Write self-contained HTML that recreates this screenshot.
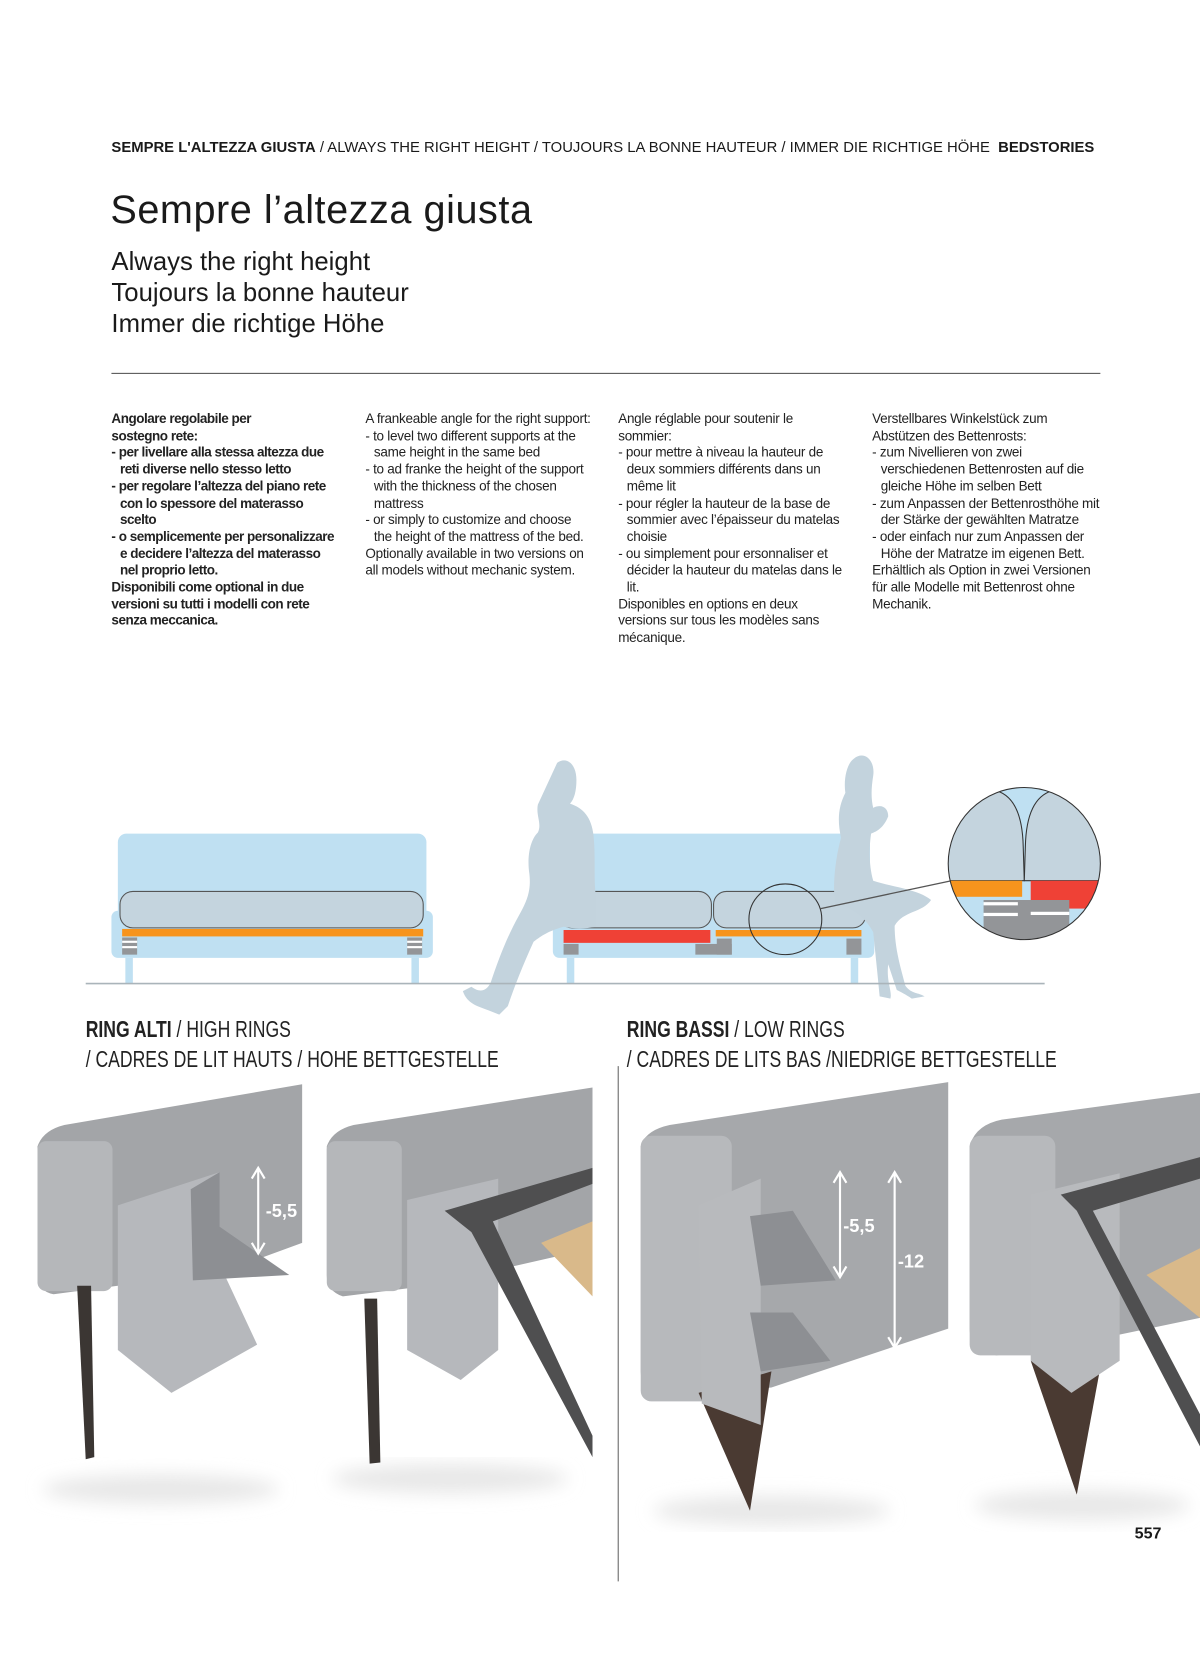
<!DOCTYPE html>
<html><head><meta charset="utf-8"><style>
html,body{margin:0;padding:0;background:#fff;}
body{width:1200px;height:1680px;overflow:hidden;position:relative;}
#w{position:absolute;left:0;top:0;width:1120px;height:1568px;transform:scale(1.0714286);transform-origin:0 0;font-family:"Liberation Sans",sans-serif;color:#1a1a1a;}
.a{position:absolute;white-space:nowrap;}
.col{position:absolute;top:384px;width:212px;font-size:12.6px;line-height:15.7px;color:#222;letter-spacing:-0.25px;}
.col p{margin:0;}
.ind{padding-left:8px;text-indent:-8px;}
.h{position:absolute;font-family:"Liberation Sans Narrow","Liberation Sans",sans-serif;font-size:22px;line-height:28px;color:#222;transform:scaleX(0.746);transform-origin:0 0;white-space:nowrap;}
</style></head><body><div id="w">
<div class="a" style="left:104px;top:129px;font-size:13.85px;"><b>SEMPRE L'ALTEZZA GIUSTA</b> / ALWAYS THE RIGHT HEIGHT / TOUJOURS LA BONNE HAUTEUR / IMMER DIE RICHTIGE HÖHE &nbsp;<b>BEDSTORIES</b></div>
<div class="a" style="left:103px;top:175px;font-size:37px;letter-spacing:0.5px;">Sempre l’altezza giusta</div>
<div class="a" style="left:104px;top:230px;font-size:24px;line-height:29px;">Always the right height<br>Toujours la bonne hauteur<br>Immer die richtige Höhe</div>
<div class="a" style="left:104px;top:348px;width:923px;height:1px;background:#555;"></div>

<div class="col" style="left:104px;font-weight:bold;letter-spacing:-0.45px;"><p>Angolare regolabile per<br>sostegno rete:</p><p class="ind">- per livellare alla stessa altezza due reti diverse nello stesso letto</p><p class="ind">- per regolare l’altezza del piano rete con lo spessore del materasso scelto</p><p class="ind">- o semplicemente per personalizzare e decidere l’altezza del materasso nel proprio letto.</p><p>Disponibili come optional in due versioni su tutti i modelli con rete senza meccanica.</p></div>
<div class="col" style="left:341px;"><p>A frankeable angle for the right support:</p><p class="ind">- to level two different supports at the same height in the same bed</p><p class="ind">- to ad franke the height of the support with the thickness of the chosen mattress</p><p class="ind">- or simply to customize and choose the height of the mattress of the bed.</p><p>Optionally available in two versions on all models without mechanic system.</p></div>
<div class="col" style="left:577px;"><p>Angle réglable pour soutenir le sommier:</p><p class="ind">- pour mettre à niveau la hauteur de deux sommiers différents dans un même lit</p><p class="ind">- pour régler la hauteur de la base de sommier avec l’épaisseur du matelas choisie</p><p class="ind">- ou simplement pour ersonnaliser et décider la hauteur du matelas dans le lit.</p><p>Disponibles en options en deux versions sur tous les modèles sans mécanique.</p></div>
<div class="col" style="left:814px;"><p>Verstellbares Winkelstück zum Abstützen des Bettenrosts:</p><p class="ind">- zum Nivellieren von zwei verschiedenen Bettenrosten auf die gleiche Höhe im selben Bett</p><p class="ind">- zum Anpassen der Bettenrosthöhe mit der Stärke der gewählten Matratze</p><p class="ind">- oder einfach nur zum Anpassen der Höhe der Matratze im eigenen Bett.</p><p>Erhältlich als Option in zwei Versionen für alle Modelle mit Bettenrost ohne Mechanik.</p></div>

<svg class="a" style="left:0;top:0" width="1120" height="1568" viewBox="0 0 1120 1568">
<rect x="110" y="778" width="288" height="90" rx="8" fill="#bfe0f2"/>
<rect x="104" y="850" width="300" height="44" rx="6" fill="#bfe0f2"/>
<rect x="112" y="832" width="283" height="34" rx="12" fill="#c4d4de" stroke="#555" stroke-width="1"/>
<rect x="114" y="867" width="281" height="7" fill="#f7941d"/>
<rect x="114" y="875" width="14" height="16" fill="#939598"/><rect x="380" y="875" width="14" height="16" fill="#939598"/>
<rect x="114" y="878" width="14" height="2" fill="#fff"/><rect x="380" y="878" width="14" height="2" fill="#fff"/>
<rect x="114" y="883" width="14" height="2" fill="#fff"/><rect x="380" y="883" width="14" height="2" fill="#fff"/>
<rect x="117" y="894" width="7" height="24" fill="#bfe0f2"/><rect x="384" y="894" width="7" height="24" fill="#bfe0f2"/>
<rect x="517" y="778" width="295" height="90" rx="8" fill="#bfe0f2"/>
<rect x="516" y="850" width="300" height="44" rx="6" fill="#bfe0f2"/>
<rect x="522" y="832" width="142" height="34" rx="12" fill="#c4d4de" stroke="#555"/>
<rect x="666" y="832" width="142" height="34" rx="12" fill="#c4d4de" stroke="#555"/>
<rect x="526" y="868" width="137" height="12" fill="#ef4136"/>
<rect x="668" y="868" width="136" height="6" fill="#f7941d"/>
<rect x="526" y="881" width="14" height="10" fill="#939598"/><rect x="649" y="881" width="34" height="10" fill="#939598"/>
<rect x="669" y="876" width="14" height="15" fill="#939598"/><rect x="790" y="876" width="14" height="15" fill="#939598"/>
<rect x="529" y="894" width="7" height="24" fill="#bfe0f2"/><rect x="794" y="894" width="7" height="24" fill="#bfe0f2"/>
<g fill="#c3d3dd">
<path d="M520 712c8-6 18 0 18 16 0 10-2 18-6 22 12 4 20 12 22 30 2 20 0 40 2 55l0 30c-10 2-20 2-30 0-14 4-20 8-28 14-10 22-18 42-24 60l-8 8-10-4c-10-4-20-6-24-18l8-4c8 6 14 4 18-4 8-24 16-44 26-62 8-14 12-24 10-40-2-14 0-30 8-38 4-8-2-16 0-26z"/>
<path d="M797 708c10-8 20 2 18 16-2 12-2 22 0 30 8-4 14 0 14 8-4 10-10 14-16 16-2 14-2 30 2 44 18 6 42 8 54 18-8 12-26 10-34 24 0 22 6 40 10 56 6 8 12 6 18 10l-12 2c-6-4-10-6-14-8l-8-24c-2 16 4 26 2 32l-10-2c-2-22-4-40-6-60-10-18-22-22-36-28-2-22 2-46 6-60-4-18-2-30 4-42-2-14 2-28 8-32z"/>
</g>
<line x1="80" y1="918" x2="975" y2="918" stroke="#aab4ba" stroke-width="1.5"/>
<ellipse cx="733" cy="858" rx="34" ry="33" fill="none" stroke="#333"/>
<line x1="766" y1="848" x2="888" y2="822" stroke="#555" stroke-width="1.2"/>
<defs><clipPath id="c"><circle cx="956" cy="806" r="71"/></clipPath></defs>
<g clip-path="url(#c)">
<rect x="880" y="730" width="160" height="160" fill="#bfe0f2"/>
<path d="M884 822 L884 760 Q900 740 930 738 Q954 745 955 790 L956 822 Z" fill="#c4d4de" stroke="#333"/>
<path d="M956 822 L957 790 Q958 745 982 738 Q1012 740 1028 760 L1028 822 Z" fill="#c4d4de" stroke="#333"/>
<rect x="884" y="822" width="70" height="15" fill="#f7941d"/>
<rect x="962" y="822" width="70" height="26" fill="#ef4136"/>
<rect x="918" y="840" width="80" height="60" fill="#939598"/>
<rect x="918" y="842" width="32" height="3" fill="#fff"/><rect x="918" y="852" width="32" height="3" fill="#fff"/>
<rect x="962" y="851" width="36" height="3" fill="#fff"/>
</g>
<circle cx="956" cy="806" r="71" fill="none" stroke="#333"/>
<defs><filter id="b"><feGaussianBlur stdDeviation="8"/></filter></defs>
<g fill="#e8e8e8" filter="url(#b)">
<ellipse cx="150" cy="1390" rx="110" ry="14"/><ellipse cx="420" cy="1380" rx="110" ry="14"/>
<ellipse cx="720" cy="1410" rx="110" ry="14"/><ellipse cx="1010" cy="1405" rx="100" ry="14"/>
</g>
<path d="M35 1070 Q40 1055 60 1050 L282 1012 L282 1160 L200 1190 L110 1200 L50 1208 Q35 1205 35 1190 Z" fill="#a3a5a8"/>
<rect x="35" y="1065" width="70" height="140" rx="8" fill="#b5b7ba"/>
<path d="M72 1200 L85 1200 L88 1360 L80 1362 Z" fill="#3b3633"/>
<path d="M110 1125 L205 1094 L205 1180 L240 1255 L160 1300 L110 1260 Z" fill="#b6b8bc"/>
<path d="M178 1110 L205 1094 L205 1145 L270 1190 L180 1195 Z" fill="#8d8f93"/>
<path d="M305 1070 Q310 1055 330 1050 L553 1015 L553 1165 L400 1200 L320 1210 Q305 1205 305 1190 Z" fill="#a3a5a8"/>
<rect x="305" y="1065" width="70" height="140" rx="8" fill="#b5b7ba"/>
<path d="M340 1212 L352 1212 L355 1365 L345 1366 Z" fill="#3b3633"/>
<path d="M380 1120 L465 1100 L465 1260 L430 1288 L380 1260 Z" fill="#b6b8bc"/>
<path d="M415 1130 L553 1090 L553 1105 L460 1140 L553 1340 L553 1360 L440 1150 Z" fill="#4f4f50"/>
<path d="M505 1160 L553 1140 L553 1210 Z" fill="#d9b98a"/>
<path d="M598 1070 Q602 1055 625 1050 L885 1010 L885 1240 L720 1295 L620 1305 Q598 1300 598 1280 Z" fill="#a6a8ab"/>
<rect x="598" y="1060" width="85" height="248" rx="10" fill="#b7b9bc"/>
<path d="M652 1300 L720 1280 L700 1410 Z" fill="#4a3a32"/>
<path d="M652 1125 L710 1100 L710 1330 L655 1310 Z" fill="#b8babd"/>
<path d="M700 1135 L740 1130 L780 1195 L710 1200 Z M700 1225 L740 1225 L775 1270 L710 1280 Z" fill="#8d8f93"/>
<path d="M905 1070 Q910 1050 935 1045 L1120 1020 L1120 1230 L1000 1255 L930 1265 Q905 1260 905 1240 Z" fill="#a6a8ab"/>
<rect x="905" y="1060" width="80" height="205" rx="10" fill="#b7b9bc"/>
<path d="M962 1270 L1030 1260 L1005 1395 Z" fill="#4a3a32"/>
<path d="M962 1115 L1045 1095 L1045 1270 L1000 1300 L962 1270 Z" fill="#b8babd"/>
<path d="M990 1115 L1120 1080 L1120 1100 L1020 1130 L1120 1320 L1120 1350 L1005 1130 Z" fill="#4f4f50"/>
<path d="M1070 1190 L1120 1165 L1120 1230 Z" fill="#d9b98a"/>
<g stroke="#fff" stroke-width="2" fill="none">
<path d="M241 1092 L241 1168 M235 1100 L241 1090 L247 1100 M235 1160 L241 1170 L247 1160"/>
<path d="M784 1096 L784 1190 M778 1104 L784 1094 L790 1104 M778 1182 L784 1192 L790 1182"/>
<path d="M835 1096 L835 1256 M829 1104 L835 1094 L841 1104 M829 1248 L835 1258 L841 1248"/>
</g>
<g fill="#fff" font-family="Liberation Sans Narrow,Liberation Sans,sans-serif" font-size="17" font-weight="bold">
<text x="248" y="1136">-5,5</text><text x="787" y="1150">-5,5</text><text x="838" y="1183">-12</text>
</g>
<line x1="577" y1="995" x2="577" y2="1476" stroke="#666" stroke-width="1"/>
</svg>

<div class="h" style="left:80px;top:947px;"><b>RING ALTI</b> / HIGH RINGS<br>/ CADRES DE LIT HAUTS / HOHE BETTGESTELLE</div>
<div class="h" style="left:585px;top:947px;"><b>RING BASSI</b> / LOW RINGS<br>/ CADRES DE LITS BAS /NIEDRIGE BETTGESTELLE</div>
<div class="a" style="left:1059px;top:1423px;font-size:15px;font-weight:bold;">557</div>
</div></body></html>
